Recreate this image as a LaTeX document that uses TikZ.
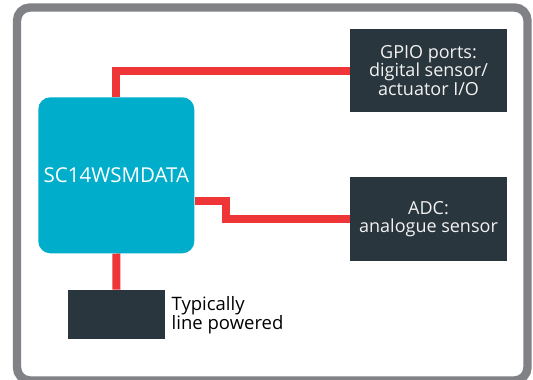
\documentclass[tikz,border=0pt]{standalone}
\usepackage{fontspec}
\setmainfont{Open Sans}
\usetikzlibrary{backgrounds}
\definecolor{frame}{HTML}{808285}
\definecolor{chip}{HTML}{00AECB}
\definecolor{dark}{HTML}{2A363D}
\definecolor{wirered}{HTML}{EE3537}
\tikzset{
  darkbox/.style={fill=dark, draw=none, text=white!95!black, align=center, inner sep=0pt,
    font=\fontsize{18}{18.5}\selectfont},
  chipbox/.style={fill=chip, draw=none, rounded corners=12pt, text=white, inner sep=0pt,
    font=\fontsize{20.5}{22}\selectfont},
  wire/.style={draw=wirered, line width=8pt, line join=miter},
  plain/.style={text=black, align=left, inner sep=0pt, font=\fontsize{18.5}{17.7}\selectfont}
}
\begin{document}
\begin{tikzpicture}[x=1pt,y=-1pt]
\useasboundingbox (0,0) rectangle (533,380);
\node[chipbox, minimum width=156pt, minimum height=156pt] (cpu) at (116.3,175.3) {SC14WSMDATA};
\node[darkbox, minimum width=157pt, minimum height=83pt] (gpio) at (428.5,70.5) {GPIO ports:\\digital sensor/\\actuator I/O};
\node[darkbox, minimum width=157pt, minimum height=84pt] (adc) at (428.5,219) {ADC:\\analogue sensor};
\node[darkbox, minimum width=97pt, minimum height=49pt] (pwr) at (116.5,314.3) {};
\node[plain, anchor=west] (lbl) at (171.5,315) {Typically\\line powered};
\begin{scope}[on background layer]
\fill[white] (0,0) rectangle (533,380);
\draw[frame, line width=8.4pt, rounded corners=13pt] (17,7.5) rectangle (527.5,380.5);
\draw[wire] (cpu.north) |- (gpio.west);
\draw[wire] (cpu.east |- 0,201) -- (226,201) |- (adc.west);
\draw[wire] (cpu.south) -- (pwr.north);
\end{scope}
\end{tikzpicture}
\end{document}
